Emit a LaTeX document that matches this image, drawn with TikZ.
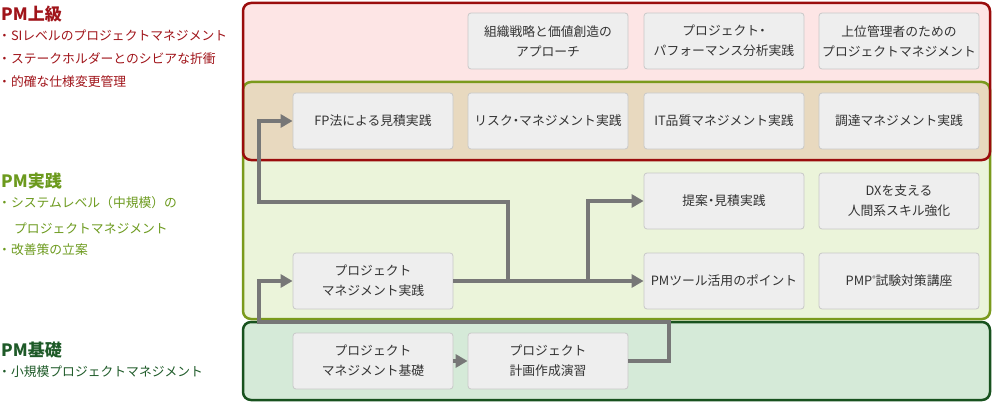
\documentclass[tikz,border=0pt]{standalone}
\usepackage{fontspec}
\setmainfont{Noto Sans CJK JP}
\usetikzlibrary{arrows.meta}
\definecolor{redb}{HTML}{9A0C0C}
\definecolor{redf}{HTML}{FDE5E5}
\definecolor{greenb}{HTML}{7A9A1C}
\definecolor{greenf}{HTML}{EBF4DA}
\definecolor{tanf}{HTML}{E8D9BF}
\definecolor{dgreenb}{HTML}{18521E}
\definecolor{dgreenf}{HTML}{D5EAD8}
\definecolor{nodef}{HTML}{EEEEEE}
\definecolor{nodeb}{HTML}{C8C8C8}
\definecolor{arrc}{HTML}{777777}
\definecolor{txtc}{HTML}{333333}
\definecolor{redt}{HTML}{A0141A}
\definecolor{greent}{HTML}{6C9A1E}
\definecolor{dgreent}{HTML}{1E5A28}
\newcommand{\nkg}{\makebox[0.5em][c]{・}}
\begin{document}
\begin{tikzpicture}[x=1pt,y=-1pt,
  course/.style={draw=nodeb, fill=nodef, line width=0.8pt, rounded corners=3pt,
    minimum width=160pt, minimum height=56pt, inner sep=0pt, align=center,
    text=txtc, font=\fontsize{12.8}{20}\selectfont},
  level/.style={rounded corners=8pt, line width=2.5pt},
  arr/.style={draw=arrc, line width=4.5pt, -{Triangle[length=12pt,width=13pt]}},
  title/.style={anchor=west, inner sep=0pt, font=\fontsize{17}{17}\selectfont\bfseries},
  bullet/.style={anchor=west, inner sep=0pt, font=\fontsize{12.8}{12.8}\selectfont}]
\useasboundingbox (0,0) rectangle (994,404);
% level boxes
\fill[greenf, rounded corners=8pt] (243,82) rectangle (990,319);
\fill[redf, rounded corners=8pt] (243,3) rectangle (990,160);
\begin{scope}
  \clip[rounded corners=8pt] (243,3) rectangle (990,160);
  \fill[tanf, rounded corners=8pt] (243,82) rectangle (990,319);
\end{scope}
\draw[level, draw=greenb] (243,82) rectangle (990,319);
\draw[level, draw=redb] (243,3) rectangle (990,160);
\filldraw[level, draw=dgreenb, fill=dgreenf] (243,322) rectangle (990,400);
% left labels
\node[title, text=redt] (t1) at (1,14) {PM上級};
\node[bullet, text=redt] (t1a) at (-2,35) {・SIレベルのプロジェクトマネジメント};
\node[bullet, text=redt] (t1b) at (-2,59) {・ステークホルダーとのシビアな折衝};
\node[bullet, text=redt] (t1c) at (-2,82) {・的確な仕様変更管理};
\node[title, text=greent] (t2) at (1,181) {PM実践};
\node[bullet, text=greent] (t2a) at (-2,203) {・システムレベル（中規模）の};
\node[bullet, text=greent] (t2b) at (14,228) {プロジェクトマネジメント};
\node[bullet, text=greent] (t2c) at (-2,250) {・改善策の立案};
\node[title, text=dgreent] (t3) at (1,350) {PM基礎};
\node[bullet, text=dgreent] (t3a) at (-2,372) {・小規模プロジェクトマネジメント};
% courses
\node[course] (soshiki) at (548,41) {組織戦略と価値創造の\\アプローチ};
\node[course] (perf) at (724,41) {プロジェクト\nkg\\パフォーマンス分析実践};
\node[course] (joui) at (899,41) {上位管理者のための\\プロジェクトマネジメント};
\node[course] (fp) at (373,121) {FP法による見積実践};
\node[course] (risk) at (548,121) {リスク\nkg マネジメント実践};
\node[course] (itq) at (724,121) {IT品質マネジメント実践};
\node[course] (chotatsu) at (899,121) {調達マネジメント実践};
\node[course] (teian) at (724,201) {提案\nkg 見積実践};
\node[course] (dx) at (899,201) {DXを支える\\人間系スキル強化};
\node[course] (jissen) at (373,281) {プロジェクト\\マネジメント実践};
\node[course] (pmtool) at (724,281) {PMツール活用のポイント};
\node[course] (pmp) at (899,281) {PMP\raisebox{4pt}{\fontsize{7}{7}\selectfont ®}試験対策講座};
\node[course] (kiso) at (373,361) {プロジェクト\\マネジメント基礎};
\node[course] (keikaku) at (548,361) {プロジェクト\\計画作成演習};
% connector points
\coordinate (k1) at (669,361);
\coordinate (k2) at (669,322);
\coordinate (k3) at (259,322);
\coordinate (k4) at (259,281);
\coordinate (b1) at (508,281);
\coordinate (b2) at (508,202);
\coordinate (b3) at (259,202);
\coordinate (b4) at (259,121);
\coordinate (c1) at (588,281);
% connectors
\draw[arr] (kiso.east) -- (keikaku.west);
\draw[arr, line join=miter] (keikaku.east) -- (k1) -- (k2) -- (k3) -- (k4) -- (jissen.west);
\draw[arr] (jissen.east) -- (pmtool.west);
\draw[arr, line join=miter] (b1) -- (b2) -- (b3) -- (b4) -- (fp.west);
\draw[arr, line join=miter] (c1) |- (teian.west);
\end{tikzpicture}
\end{document}
